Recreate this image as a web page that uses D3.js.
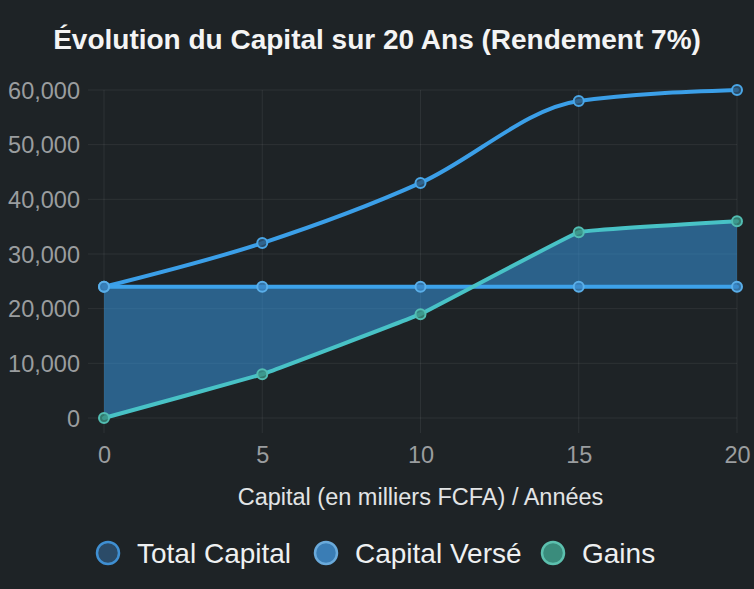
<!DOCTYPE html>
<html>
<head>
<meta charset="utf-8">
<script src="https://cdn.jsdelivr.net/npm/d3@7"></script>
<style>
  html, body { margin: 0; padding: 0; background: #1e2326; }
  svg { display: block; font-family: "Liberation Sans", Arial, sans-serif; }
</style>
</head>
<body>
<div id="chart"></div>
<script>
/* -----------------------
data
------------------------- */

var years = [0, 5, 10, 15, 20];
var totalCapital = [24000, 32000, 43000, 58000, 60000];
var capitalVerse = [24000, 24000, 24000, 24000, 24000];
var gains = [0, 8000, 19000, 34000, 36000];
var yTicks = [0, 10000, 20000, 30000, 40000, 50000, 60000];
var seriesNames = ["Total Capital", "Capital Versé", "Gains"];

/* -----------------------
main variables
------------------------- */

var width = 754, height = 589;
var margin = {top: 90, right: 17, bottom: 171, left: 104};

var svg = d3.select("#chart")
  .append("svg")
  .attr("width", width)
  .attr("height", height);

svg.append("rect")
  .attr("width", width)
  .attr("height", height)
  .attr("fill", "#1e2326");

var x = d3.scaleLinear()
  .domain([0, 20])
  .range([margin.left, width - margin.right]);

var y = d3.scaleLinear()
  .domain([0, 60000])
  .range([height - margin.bottom, margin.top]);

/* -----------------------
grid + axes
------------------------- */

var grid = svg.append("g").attr("class", "grid");

grid.selectAll(".hgrid")
  .data(yTicks)
  .enter().append("line")
  .attr("x1", x(0) - 16)
  .attr("x2", x(20))
  .attr("y1", function (d) { return y(d); })
  .attr("y2", function (d) { return y(d); })
  .attr("stroke", "rgba(255,255,255,0.07)")
  .attr("stroke-width", 1);

grid.selectAll(".vgrid")
  .data(years)
  .enter().append("line")
  .attr("x1", function (d) { return x(d); })
  .attr("x2", function (d) { return x(d); })
  .attr("y1", y(60000))
  .attr("y2", y(0) + 15)
  .attr("stroke", "rgba(255,255,255,0.07)")
  .attr("stroke-width", 1);

var yAxis = svg.append("g")
  .attr("transform", "translate(" + (x(0) - 24) + ",0)")
  .call(d3.axisLeft(y).tickValues(yTicks).tickSize(0).tickFormat(d3.format(",")));

var xAxis = svg.append("g")
  .attr("transform", "translate(0," + (y(0) + 37) + ")")
  .call(d3.axisBottom(x).tickValues(years).tickSize(0));

[yAxis, xAxis].forEach(function (a) {
  a.select(".domain").remove();
  a.selectAll("text")
    .attr("fill", "#9a9d9f")
    .style("font-size", "23.5px")
    .style("font-family", "Liberation Sans, Arial, sans-serif");
});
yAxis.selectAll("text").attr("dy", "0.35em").attr("x", 0);
xAxis.selectAll("text").attr("dy", "0.35em").attr("y", 0);

/* -----------------------
fill between versé and gains
------------------------- */

var gainsCurve = d3.curveCardinal.tension(0.85);

var area = d3.area()
  .x(function (d, i) { return x(years[i]); })
  .y0(function (d, i) { return y(gains[i]); })
  .y1(function (d, i) { return y(capitalVerse[i]); })
  .curve(gainsCurve);

svg.append("path")
  .datum(years)
  .attr("d", area)
  .attr("fill", "rgba(54,150,220,0.55)");

/* -----------------------
lines
------------------------- */

function lineOf(values, curve) {
  return d3.line()
    .x(function (d, i) { return x(years[i]); })
    .y(function (d, i) { return y(values[i]); })
    .curve(curve)(values);
}

var series = [
  {name: seriesNames[0], values: totalCapital, curve: d3.curveMonotoneX, stroke: "#3b9fe8", pfill: "#2d5577", pstroke: "#4aa6e6"},
  {name: seriesNames[1], values: capitalVerse, curve: d3.curveLinear, stroke: "#3da2ea", pfill: "#3a86c4", pstroke: "#5aaee8"},
  {name: seriesNames[2], values: gains, curve: gainsCurve, stroke: "#48c2c6", pfill: "#3a8f80", pstroke: "#52bdb2"}
];

series.forEach(function (s) {
  svg.append("path")
    .attr("d", lineOf(s.values, s.curve))
    .attr("fill", "none")
    .attr("stroke", s.stroke)
    .attr("stroke-width", 4)
    .attr("stroke-linejoin", "round")
    .attr("stroke-linecap", "round");
});

series.forEach(function (s) {
  svg.selectAll(null)
    .data(s.values)
    .enter().append("circle")
    .attr("cx", function (d, i) { return x(years[i]); })
    .attr("cy", function (d) { return y(d); })
    .attr("r", 5)
    .attr("fill", s.pfill)
    .attr("fill-opacity", 0.8)
    .attr("stroke", s.pstroke)
    .attr("stroke-width", 2);
});

/* -----------------------
title, axis label, legend
------------------------- */

svg.append("text")
  .attr("x", width / 2)
  .attr("y", 49)
  .attr("text-anchor", "middle")
  .attr("fill", "#f4f4f4")
  .style("font-size", "28px")
  .style("font-weight", "bold")
  .text("Évolution du Capital sur 20 Ans (Rendement 7%)");

svg.append("text")
  .attr("x", (x(0) + x(20)) / 2)
  .attr("y", 505)
  .attr("text-anchor", "middle")
  .attr("fill", "#e2e4e5")
  .style("font-size", "23.5px")
  .text("Capital (en milliers FCFA) / Années");

var legendX = [108, 326, 553];
var legend = svg.selectAll(".legend")
  .data(series)
  .enter().append("g")
  .attr("class", "legend")
  .attr("transform", function (d, i) { return "translate(" + legendX[i] + ",553)"; });

legend.append("circle")
  .attr("r", 11)
  .attr("fill", function (d, i) { return ["#2b4b68", "#3a7db5", "#3a8c7c"][i]; })
  .attr("stroke", function (d, i) { return ["#3f8fd2", "#6aaadb", "#5cc0ae"][i]; })
  .attr("stroke-width", 2.5);

legend.append("text")
  .attr("x", 29)
  .attr("dy", "0.36em")
  .attr("fill", "#eef0f1")
  .style("font-size", "28px")
  .text(function (d) { return d.name; });
</script>
</body>
</html>
